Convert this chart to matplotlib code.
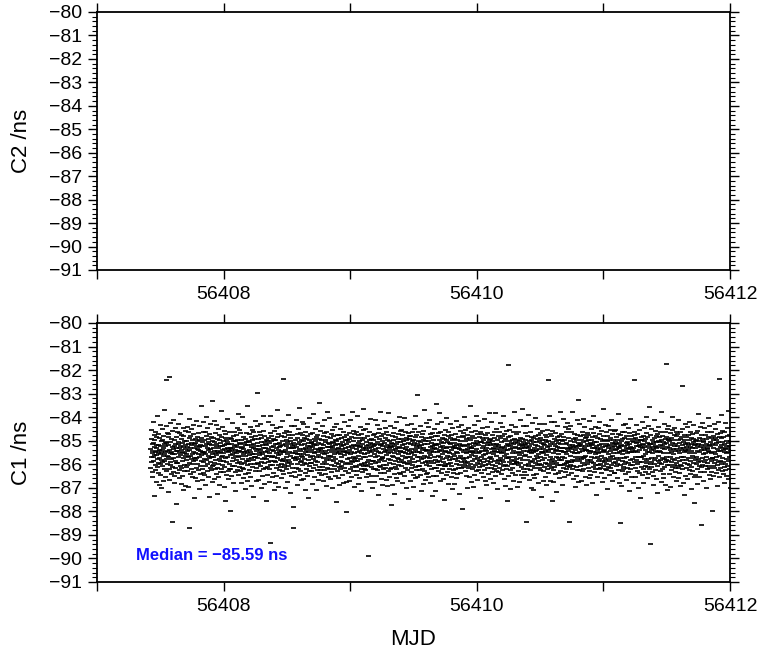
import numpy as np
import matplotlib
matplotlib.use("Agg")
import matplotlib.pyplot as plt
from matplotlib.ticker import FixedLocator, FixedFormatter, MultipleLocator

plt.rcParams['font.family'] = ['Liberation Sans', 'DejaVu Sans']

# Axis ticks
mjd_ticks = [56407, 56408, 56409, 56410, 56411, 56412]
mjd_tick_labels = ["", "56408", "", "56410", "", "56412"]
ns_ticks = [-91, -90, -89, -88, -87, -86, -85, -84, -83, -82, -81, -80]

# C1 time-transfer series
c1_first_epoch = 56407.42   # MJD of first sample
c1_last_epoch = 56412.0     # MJD of last sample
c1_median_ns = -85.59
# C1 samples relative to the median, in units of 0.01 ns
c1_offset_cns = [
    23, -57, 104, -12, 68, -31, 5, -93, 46, 17, -72, 139, -8, 51, -26, 84, -175, 33, -3, 62, -45, 11, 97, -66, 29, -118, 39, -1, 76, -20, 14, -54, 163, -37, 88, 7, -79, 42, -128, 19,
    -15, 71, -40, 125, 3, -87, 36, -22, 58, 9, -143, 64, -33, 18, 107, -49, 26, -6, 81, -112, 44, 1, -61, 190, -28, 53, 13, -96, 35, -70, 121, 315, -17, 48, -4, 92, -38, 15, -158, 74,
    41, -9, 86, -63, 21, 330, -107, 7, 55, -30, 136, -44, 12, -82, 67, -19, -285, 31, 99, -52, 4, 148, -75, 24, -13, 60, -119, 38, 2, -89, 47, -25, 115, -58, 16, 73, -211, 27, -36, 94,
    -34, 16, -78, 52, 130, -11, 43, -101, 28, -64, 8, 90, -47, 171, -2, 37, -56, 83, -124, 19, 65, -27, 10, -91, 49, -150, 34, 77, -16, 113, -42, 6, -69, 57, 22, -133, 40, -7, 102, -53,
    58, -24, 3, 117, -70, 32, -46, 14, 95, -137, 45, -10, 69, -35, 21, 153, -310, -83, 26, -5, 79, -59, 39, 108, -18, 50, -96, 1, 63, -41, 126, -29, 12, -74, 87, 30, -183, 44, -13, 66,
    -21, 49, -99, 8, 35, -58, 142, -15, 73, 24, -112, 56, -39, 4, 91, -67, 18, -146, 61, 33, -9, 120, -48, 15, -84, 42, 205, -26, 71, -3, 38, -106, 53, -62, 11, 97, -31, 139, -77, 6,
    12, -85, 62, -17, 98, 37, -50, 2, -127, 80, -23, 46, 160, -71, 29, -38, 111, -6, 54, -93, 20, 68, -14, -178, 43, 86, -55, 9, 132, -32, 25, -66, 74, -10, 40, -115, 3, 57, -48, 226,
    -46, 30, -11, 72, -104, 15, 55, -34, 141, -63, 8, 93, -22, 38, -81, 124, -2, 47, -57, 17, -168, 66, 27, -95, 5, 109, -40, 60, -18, 83, -131, 35, -72, 13, 48, -26, 186, -8, 76, -60,
    35, -6, 119, -43, 18, -75, 59, -28, 6, 101, -54, 41, -137, 24, 71, -15, 88, -196, 47, -33, 14, 64, -86, 30, 152, -12, 52, -69, 9, -105, 44, 23, 94, -41, 17, -59, 70, -238, 28, -3,
    -63, 44, 21, -92, 67, 3, -29, 135, -50, 26, -14, 81, -120, 58, 11, -47, 97, 36, -73, 19, -4, 56, -154, 40, 82, -24, 7, 114, -65, 32, -37, 62, -9, 173, -88, 15, 49, -30, 103, -52,
    17, -71, 91, -5, 45, -122, 28, 64, -39, 10, 159, -57, 33, -18, 76, -99, 22, 2, -61, 128, -35, 50, 13, -82, 39, -146, 68, -7, 90, -27, 14, 53, -110, 41, 208, -44, 8, -76, 59, -19,
    -28, 54, -3, 86, -64, 20, 117, -41, 9, -97, 42, 73, -16, 31, -132, 60, 1, -52, 105, -23, 46, -180, 29, 94, -11, 66, -39, 4, 142, -70, 25, -8, 79, -113, 37, 15, -58, 121, -35, 260,
    48, -13, 67, -108, 24, -40, 6, 96, -68, 38, -2, 129, -49, 18, 85, -30, 55, -143, 11, 71, -20, 41, -89, 3, 165, -61, 27, 100, -36, 52, -14, 77, -123, 30, 9, -55, 43, -199, 63, -6,
    -19, 39, -86, 14, 57, -51, 138, -7, 70, -33, 25, -115, 48, 5, -62, 91, -25, 162, -42, -375, 34, 80, -12, 59, -94, 20, -4, 127, -46, 68, 16, -77, 36, -150, 101, -29, 61, -10, 45, -119,
    62, -32, 8, 111, -58, 29, -90, 43, -16, 74, 190, -45, 21, -3, 89, -136, 50, 12, -67, 33, -21, 118, -53, 37, 4, -101, 78, -38, 15, -70, 56, 144, -26, 40, -84, 9, 320, -17, 93, -43,
    -52, 10, 75, -27, 46, -141, 19, 63, -9, 100, -60, 35, -115, 2, 54, -37, 170, -22, 82, -48, 26, -79, 13, 95, -31, 58, -164, 44, -6, 69, -92, 27, 120, -41, 7, -58, 38, 84, -15, -221,
    30, -310, 51, -14, 123, -74, 39, 8, -96, 61, -24, 15, 148, -56, 33, -11, 87, -38, 4, -129, 71, 45, -19, 107, -62, 23, 1, -85, 52, 196, -33, 17, -68, 92, -7, 41, -109, 64, -26, 137,
    -8, 83, -45, 22, -103, 56, 3, 131, -34, 70, -17, 44, -77, 12, 98, -150, 29, -59, 65, 18, -40, 116, -2, -91, 36, 79, -23, 51, -185, 9, 62, -49, 28, 155, -71, 35, -12, 89, -36, 49,
    54, -37, 18, -70, 90, -4, 32, -126, 47, 11, -55, 172, -20, 66, -93, 39, 6, -43, 109, -28, 57, 24, -152, 73, -9, 42, -64, 135, 13, -31, 85, -106, 50, -1, 20, -76, 68, 218, -51, 27,
    -67, 25, 100, -10, 43, -86, 61, 14, -38, 121, -53, 29, 7, -112, 79, 40, -16, 91, -66, 2, 145, -30, 52, -81, 16, 62, -41, 8, -134, 96, -23, 34, -58, 75, 179, -5, 48, -97, 31, -14,
    21, -59, 44, 157, -22, 70, -104, 31, -6, 88, -45, 12, -73, 55, 26, -140, 37, 103, -29, 50, -12, 78, -61, 19, 117, -48, 3, 64, -92, 39, -18, 128, -35, 57, 10, -203, 45, -70, 24, 85,
    -41, 7, -99, 66, 29, -54, 15, 84, -131, 46, 4, -27, 110, -63, 36, -8, 72, -47, 169, 22, -86, 53, -32, 11, 95, -120, 40, 17, -57, 74, -3, 139, -69, 26, -41, 60, 13, -118, 82, -245,
    46, -18, 60, -37, 8, 122, -79, 33, 52, -14, 93, -110, 20, 67, -41, 3, -62, 147, -25, 38, 76, -96, 10, -53, 28, 181, -33, 59, -11, 42, -71, 101, -20, 5, 86, -137, 35, -48, 69, -26,
    -13, 97, -52, 24, -85, 40, 13, -29, 164, -68, 50, -5, 82, -124, 31, 58, -44, 16, -99, 71, -17, 36, 119, -60, 8, -38, 89, -156, 45, 21, -73, 62, -9, 106, -47, 27, 194, -63, 2, -34,
    72, -44, 28, -12, 109, -65, 35, -97, 18, 54, -30, 6, 131, -48, 77, -21, -430, 41, -81, 14, 63, -116, 26, 96, -39, 49, -7, 150, -54, 33, -90, 11, 68, -25, 45, -140, 19, 85, -62, 38,
    -26, 60, -118, 41, 3, 87, -36, 148, -59, 23, -10, 74, -91, 47, 17, -67, 126, -4, 55, -33, 92, -172, 30, 12, -49, 65, -21, 107, -77, 40, 6, -53, 183, -18, 79, -102, 44, -8, 58, -130,
    37, -15, 88, -63, 22, -42, 144, 9, -76, 51, -28, 114, 14, -55, 70, -107, 33, -3, 97, -46, 19, 61, -134, 42, -19, 82, 5, -68, 177, -37, 27, -93, 56, 13, -24, 121, -59, 36, -214, 48,
    -55, 31, -7, 78, -130, 47, 20, -39, 93, -12, 64, -84, 36, -168, 8, 115, -51, 25, -27, 73, 44, -98, 16, 137, -63, 29, -14, 52, -110, 4, 87, -45, 67, -20, 34, -79, 160, -31, 99, 11,
    14, -81, 52, -24, 66, 103, -47, 27, -5, 84, -119, 40, -31, 58, 12, -73, 155, -36, 45, -92, 22, 7, -56, 98, -16, 71, -143, 33, 60, -9, 125, -66, 18, -40, 91, 2, -188, 50, -28, 77,
    -36, 68, 17, -114, 43, -9, 79, -58, 131, 24, -73, 5, 95, -43, 56, -20, 39, -137, 62, 11, -87, 108, -30, 49, -2, 76, -52, 19, -101, 163, 35, -64, 27, 85, -12, 46, -95, 10, 253, -47,
    59, -25, 96, -48, 13, -66, 37, -11, 122, -85, 30, 53, -19, 74, -156, 41, 6, -60, 88, -37, 18, -125, 64, 28, -14, 102, -71, 45, -4, 190, -33, 57, -109, 21, 70, -44, 15, -82, 134, -29,
    -12, 43, -76, 21, 117, -35, 58, -94, 7, 69, -16, 146, -50, 34, -1, 86, -120, 51, -28, 15, 75, -62, 38, -174, 24, 92, -37, 9, 63, -89, 29, -10, 110, -55, 40, -153, 78, -22, 47, 216,
    40, -92, 24, -57, 81, 10, -33, 128, -70, 47, -6, 90, -45, 16, 178, -26, 60, -112, 33, -8, 97, -43, 20, -78, 55, 139, -18, 36, -63, 4, 72, -104, 27, 50, -31, 84, -194, 13, -48, 66,
    -48, 17, 105, -39, 64, -15, 26, -88, 154, -4, 53, -72, 34, 12, -125, 78, -41, 95, -23, 49, -59, 7, 132, -34, 71, -9, 44, -97, 20, -50, 85, -18, 62, -146, 31, 114, -66, 3, 27, -79,
    66, -5, 35, -123, 51, 27, -62, 89, -17, 42, -100, 11, 143, -39, 61, -28, 8, -84, 118, -55, 30, 75, -14, 46, -169, 22, -43, 99, 59, -7, -76, 37, 126, -32, 18, -58, 80, 40, -13, -230,
    -20, 74, -54, 12, 92, -44, 158, -25, 38, -69, 19, 103, -36, 56, -90, 5, 67, -16, 40, -141, 84, -30, 23, -57, 9, 114, -48, 31, -11, 70, -96, 45, 207, -40, 15, 63, -118, 28, 94, -3,
    28, -61, 13, 80, -29, 48, -137, 35, 8, -53, 125, -20, 69, -88, 43, 16, -42, 102, -5, 58, -71, 24, 166, -35, 51, -13, 87, -108, 6, 39, -64, 142, -27, 73, -51, 11, -22, 96, -185, 54,
    -39, 15, 87, -76, 55, -10, 29, 112, -49, 72, -2, -95, 37, 60, -31, 151, -18, 48, -67, 21, -113, 83, 4, -44, 30, 69, -129, 17, -58, 93, 41, -26, 118, -83, 7, 52, -38, 175, -14, 62,
    50, -33, -11, 65, -104, 39, 22, -56, 140, -18, 84, -43, 12, -75, 57, 30, -120, 45, 3, -62, 97, -27, 71, 15, -89, 36, 176, -49, 24, -7, 108, -70, 44, -35, 61, 9, -148, 80, -22, 33,
    -74, 42, 9, -28, 96, -57, 18, 71, -13, 133, -40, 53, -84, 26, 5, 116, -66, 34, -22, 78, -48, 11, 162, -31, 59, -103, 27, -6, 88, -45, 20, -134, 65, 37, -16, 100, -59, 2, 47, -199,
    19, -48, 73, -15, 40, -92, 380, 58, -30, 104, -8, 35, -67, 80, 24, -147, 49, -21, 127, -39, 63, 6, -79, 30, -56, 95, 14, -113, 44, -26, 181, -41, 67, -10, 32, -86, 52, 117, -34, 7,
    -31, 86, -20, 51, -138, 27, 63, -45, 10, 98, -70, 39, -3, 57, -116, 22, 72, -36, 145, -14, 45, -87, 29, 8, -53, 67, 192, -22, 36, -98, 17, 54, -61, 123, -5, 41, -75, 26, -46, 90,
    44, -3, 62, -85, 33, -285, 120, -23, 50, -60, 15, 81, -38, 28, 170, -50, 9, -106, 59, 37, -12, 94, -65, 20, -32, 76, -142, 43, 5, 63, -29, 136, -47, 18, -88, 55, 11, -152, 69, -17,
    -58, 27, -98, 40, 14, 77, -36, 156, -7, 53, -81, 21, 109, -44, 66, -15, 38, -122, 84, -27, 3, 58, -57, 130, 24, -39, 71, -10, 93, -67, 31, -178, 48, 12, -42, 102, -24, 63, 9, -111,
    25, -70, 47, 8, -51, 128, -16, 39, -95, 64, 17, -34, 84, -131, 52, -2, 73, 31, -61, 106, -40, 19, 315, -76, 11, 58, -23, 165, -48, 35, -12, 89, -110, 46, 25, -57, 79, -30, 140, -198,
    -17, 55, -38, 100, -64, 23, 6, -115, 68, -27, 46, 137, -52, 15, -83, 37, 91, -8, 56, -36, 20, -159, 74, -45, 33, 121, -14, 62, -79, 4, 49, -101, 28, 80, -21, 43, 183, -68, 16, -42,
    64, -21, 16, 89, -43, 58, -127, 30, -9, 75, -57, 11, 152, -38, 28, -96, 61, -16, 45, 9, -72, 117, -34, 50, 3, -63, 96, -25, 134, -49, 22, 70, -88, 15, -30, 107, -54, 39, -285, 26,
    -44, 33, 120, -7, 58, -80, 24, -33, 96, 13, -60, 42, -21, 179, -105, 31, 66, -47, 7, 88, -26, 54, -139, 19, 71, -12, 38, -90, 61, 27, -51, 145, -19, 82, -64, 5, 49, -116, 35, 232,
    11, -64, 41, -25, 131, 46, -9, 78, -49, 22, -113, 60, 35, -18, 97, -71, 14, -36, 153, 52, -15, 84, -60, 28, -8, 116, -43, 69, 20, -94, 37, -5, 74, -129, 56, 18, -40, 92, -22, 47,
    -30, 82, -57, 17, 63, -101, 37, 5, -69, 144, -24, 50, 14, -86, 39, 108, -32, 61, -11, 26, -122, 73, 45, -52, 9, 90, -37, 163, -16, 55, -75, 30, 2, -61, 118, -44, 78, 13, -173, 35,
    53, -12, 30, -93, 71, 19, -42, 112, -28, 6, 86, -62, 40, -17, 139, -55, 24, 68, -39, 10, -80, 99, -7, 47, -116, 33, 58, -26, 15, 195, -48, 81, -33, 21, -100, 64, -14, 37, 125, -61,
    -23, 47, 94, -66, 12, -38, 57, -147, 35, 79, -19, 26, -53, 120, 3, -88, 64, 41, -27, 103, -58, 16, -9, 72, -42, 148, 25, -69, 51, -4, 87, -114, 31, 8, -36, 60, -17, 101, -78, 45,
    38, -77, 18, 55, -31, 105, -50, 22, 73, -14, 45, -98, 8, 63, -40, 172, -22, 34, -64, 89, 11, -119, 50, 27, -45, -290, 36, 84, -13, 59, -135, 41, 17, -70, 95, -28, 66, 3, -52, 127,
    -63, 20, -41, 97, 36, -16, 71, -84, 15, 132, -30, 49, -107, 26, 81, -9, 54, -58, 6, 39, 114, -73, 23, -35, 68, 9, -156, 45, 92, -21, 32, -62, 150, -44, 13, 77, -95, 29, -18, 58,
    21, -46, 67, 10, -119, 52, 29, 85, 315, -33, 98, -56, 17, -8, 70, -93, 35, 126, -24, 48, -69, 13, 60, -40, 87, -11, 36, -141, 55, 19, -77, 42, 103, -30, 64, -12, -184, 31, 75, -51,
    -10, 61, -33, 44, -88, 26, 137, -59, 40, -4, 80, -121, 32, 57, -19, 111, -47, 18, 67, -73, 4, 92, -36, 158, -26, 50, -99, 12, 73, -54, 35, -18, 122, -83, 46, 28, -63, 9, 203, -39,
    47, -380, 84, -52, 19, -30, 108, -15, 62, -74, 33, 7, -91, 55, 24, -127, 43, 145, -22, 70, -41, 16, -66, 99, 37, -13, 79, -105, 29, 52, -47, 11, 89, -163, 34, -6, 58, 118, -28, 73,
    -35, 15, 52, -71, 97, -24, 41, 11, -117, 64, -39, 183, 27, -59, 80, -14, 36, -98, 55, 6, -81, 131, -17, 43, -52, 22, 94, -33, 68, -128, 385, 48, -23, 75, -9, 107, -46, 31, -152, 60,
    68, -27, 8, 123, -45, 30, -81, 57, 20, -10, 91, -138, 42, 71, -32, 12, -65, 104, -19, 49, 160, -53, 25, -96, 61, 1, -43, 84, -21, 38, 115, -74, 15, -56, 46, -110, 77, 23, -35, 94,
    -47, 89, -15, 35, -100, 62, 16, -58, 145, -29, 51, 5, -79, 96, -42, 27, 67, -133, 21, -8, 74, -50, 39, 290, -24, 109, -63, 30, -12, 55, -119, 83, 11, -37, 63, -172, 46, 18, -89, 129,
    31, -56, 74, -22, 14, 117, -38, 50, -102, 24, 83, -13, 41, -67, 139, 8, -45, 60, -29, 97, -81, 33, 17, -54, 70, -148, 44, -6, 88, 26, -71, 53, -34, 124, -16, 65, 7, -94, 39, -206,
    -21, 45, -87, 58, 26, -40, 90, -11, 63, -125, 36, 14, -60, 102, -33, 47, 171, -19, 72, -48, 9, -97, 56, 31, -74, 118, -27, 41, -300, 85, -52, 20, 66, -14, 136, -42, 29, -110, 52, 3,
    57, -32, 19, -74, 112, 38, -50, 7, 85, -21, 46, -143, 67, -9, 30, 98, -62, 23, -36, 154, -47, 15, 76, -88, 40, 12, -58, 121, -18, 54, -102, 37, 71, -29, 8, -75, 94, 43, -16, -241,
    -16, 80, -49, 27, -92, 63, 12, -36, 130, -55, 39, 70, -22, 4, 108, -78, 48, -11, 61, -134, 25, 87, -43, 17, -67, 140, -30, 52, 320, -6, 74, -97, 33, 14, -58, 91, -25, 167, -41, 69,
    42, -69, 26, 101, -13, 54, -84, 18, -31, 76, -120, 45, 9, -52, 94, 22, -40, 133, -66, 35, 6, -89, 59, -18, 115, -47, 30, 78, -105, 13, 49, -28, 186, -61, 37, -9, 82, -140, 20, 57,
]

c1_values = c1_median_ns + 0.01 * np.asarray(c1_offset_cns, dtype=float)
c1_epochs = np.linspace(c1_first_epoch, c1_last_epoch, len(c1_values))

fig = plt.figure(figsize=(7.6, 6.58), dpi=100)
W, H = 760.0, 658.0
ax_c2 = fig.add_axes([97 / W, 1 - 270 / H, 633 / W, 258 / H])
ax_c1 = fig.add_axes([97 / W, 1 - 582 / H, 633 / W, 259 / H])


def style_panel(ax, ylabel):
    ax.set_xlim(mjd_ticks[0], mjd_ticks[-1])
    ax.set_ylim(ns_ticks[0], ns_ticks[-1])
    ax.xaxis.set_major_locator(FixedLocator(mjd_ticks))
    ax.xaxis.set_major_formatter(FixedFormatter(mjd_tick_labels))
    ax.yaxis.set_major_locator(FixedLocator(ns_ticks))
    ax.yaxis.set_minor_locator(MultipleLocator(0.2))
    ax.tick_params(axis='both', which='major', direction='out', length=6.5,
                   width=1.0, color='black', labelsize=14, top=True, right=True,
                   labeltop=False, labelright=False)
    ax.tick_params(axis='x', which='major', pad=5)
    ax.tick_params(axis='y', which='major', pad=4)
    ax.tick_params(axis='y', which='minor', direction='out', length=3.5,
                   width=0.8, left=True, right=True)
    for sp in ax.spines.values():
        sp.set_linewidth(1.3)
        sp.set_color('black')
    ax.set_ylabel(ylabel, fontsize=16, labelpad=12)


style_panel(ax_c2, "C2 /ns")
style_panel(ax_c1, "C1 /ns")

ax_c1.plot(c1_epochs, c1_values, linestyle='none', marker='_', markersize=3.6,
           markeredgewidth=1.2, color='black', snap=False)

median_label = f"Median = {c1_median_ns:.2f} ns".replace('-', '\u2212')
ax_c1.text(56407.31, -89.89, median_label, color='#1010ff', fontsize=12,
           fontweight='bold', ha='left', va='center')

ax_c1.set_xlabel("MJD", fontsize=16, labelpad=10)

fig.savefig("out.png", dpi=100)
